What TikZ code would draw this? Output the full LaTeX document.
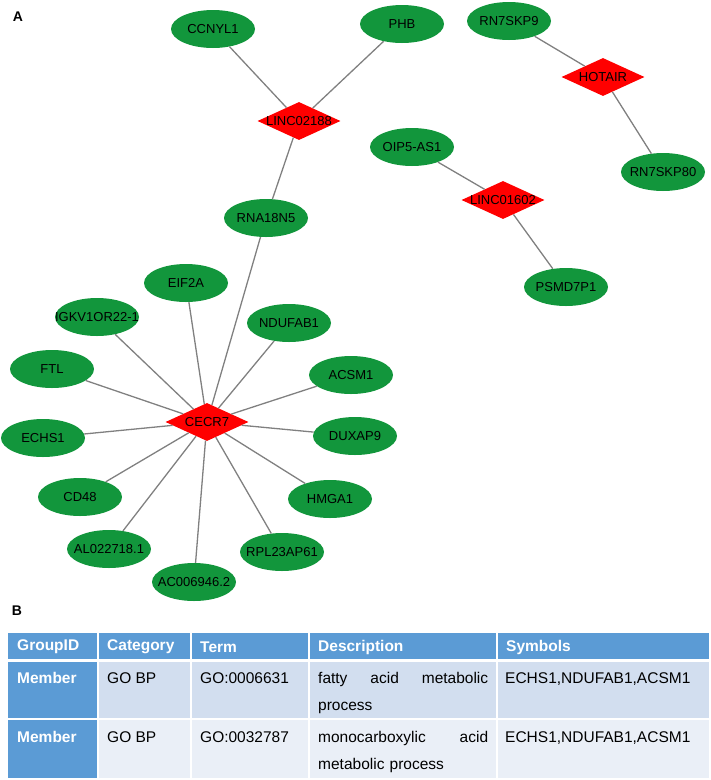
\documentclass[tikz,border=0pt]{standalone}
\usepackage{fontspec}
\setmainfont{Liberation Sans}
\usetikzlibrary{shapes.geometric}
\definecolor{geneGreen}{RGB}{18,150,60}
\definecolor{edgeGray}{RGB}{128,128,128}
\definecolor{hdBlue}{RGB}{91,155,213}
\definecolor{rowOne}{RGB}{210,222,239}
\definecolor{rowTwo}{RGB}{234,239,247}
\tikzset{
  gene/.style={ellipse,fill=geneGreen,minimum width=84pt,minimum height=38pt,inner sep=0pt,label={center:#1}},
  lnc/.style={diamond,fill=red,minimum width=83pt,minimum height=38pt,inner sep=0pt,label={center:#1}},
  link/.style={draw=edgeGray,line width=1.3pt},
  panel/.style={font=\bfseries\fontsize{14}{16}\selectfont},
  hd/.style={anchor=west,text=white,inner sep=0pt,font=\bfseries\fontsize{15.5}{27}\selectfont},
  cell/.style={anchor=north west,inner sep=0pt,font=\fontsize{15.5}{27}\selectfont},
  grp/.style={cell,text=white,font=\bfseries\fontsize{15.5}{27}\selectfont},
  desc/.style={cell,text width=170pt,align=left},
}
\begin{document}
\begin{tikzpicture}[x=1pt,y=-1pt,font=\fontsize{13}{15}\selectfont]
	\useasboundingbox (0,0) rectangle (711,780);
	\node[panel] (lblA) at (18,17) {A};
	\node[panel] (lblB) at (17,611) {B};
	% network
	\node[gene=CCNYL1] (ccnyl1) at (213,29) {};
	\node[gene=PHB] (phb) at (402,24) {};
	\node[lnc=LINC02188] (linc2) at (299,121) {};
	\node[gene=RNA18N5] (rna18) at (266,218) {};
	\node[gene=RN7SKP9] (rn9) at (509,21) {};
	\node[lnc=HOTAIR] (hotair) at (603,77) {};
	\node[gene=RN7SKP80] (rn80) at (663,172) {};
	\node[gene=OIP5-AS1] (oip5) at (412,147) {};
	\node[lnc=LINC01602] (linc1) at (503,200) {};
	\node[gene=PSMD7P1] (psmd) at (566,287) {};
	\node[gene=EIF2A] (eif2a) at (186,283) {};
	\node[gene=IGKV1OR22-1] (igkv) at (97,317) {};
	\node[gene=NDUFAB1] (ndufab1) at (289,323) {};
	\node[gene=FTL] (ftl) at (52,369) {};
	\node[gene=ACSM1] (acsm1) at (351,375) {};
	\node[lnc=CECR7] (cecr7) at (207,422) {};
	\node[gene=ECHS1] (echs1) at (43,438) {};
	\node[gene=DUXAP9] (duxap9) at (355,436) {};
	\node[gene=CD48] (cd48) at (80,497) {};
	\node[gene=HMGA1] (hmga1) at (330,499) {};
	\node[gene=AL022718.1] (al0227) at (109,549) {};
	\node[gene=RPL23AP61] (rpl23) at (282,552) {};
	\node[gene=AC006946.2] (ac0069) at (194,582) {};
	\foreach \g in {ccnyl1,phb,rna18}
		\draw[link] (linc2) -- (\g);
	\draw[link] (hotair) -- (rn9);
	\draw[link] (hotair) -- (rn80);
	\draw[link] (linc1) -- (oip5);
	\draw[link] (linc1) -- (psmd);
	\foreach \g in {rna18,eif2a,igkv,ndufab1,ftl,acsm1,echs1,duxap9,cd48,hmga1,al0227,rpl23,ac0069}
		\draw[link] (cecr7) -- (\g);
	% table
	\fill[hdBlue] (8,633) rectangle (709,660);
	\fill[rowOne] (8,660) rectangle (709,719);
	\fill[rowTwo] (8,719) rectangle (709,778);
	\fill[hdBlue] (8,660) rectangle (98,778);
	\foreach \x in {98,191,309,497}
		\draw[white,line width=1.5pt] (\x,633) -- (\x,778);
	\draw[white,line width=3pt] (8,660) -- (709,660);
	\draw[white,line width=1.5pt] (8,719) -- (709,719);
	\foreach \x/\t in {8/GroupID,98/Category,191/Term,309/Description,497/Symbols}
		\node[hd] (h\t) at (\x+9,647) {\t};
	\foreach \r/\y/\go/\da/\db in {1/672/GO:0006631/fatty\hfill acid\hfill metabolic/process,2/731/GO:0032787/monocarboxylic\hfill acid/metabolic process}{
		\node[grp] (grp\r) at (17,\y) {Member};
		\node[cell] (cat\r) at (107,\y) {GO BP};
		\node[cell] (term\r) at (200,\y) {\go};
		\node[desc] (desc\r) at (318,\y) {\hbox to 170pt{\da}\\\db};
		\node[cell] (sym\r) at (505,\y) {ECHS1,NDUFAB1,ACSM1};
	}
\end{tikzpicture}
\end{document}
